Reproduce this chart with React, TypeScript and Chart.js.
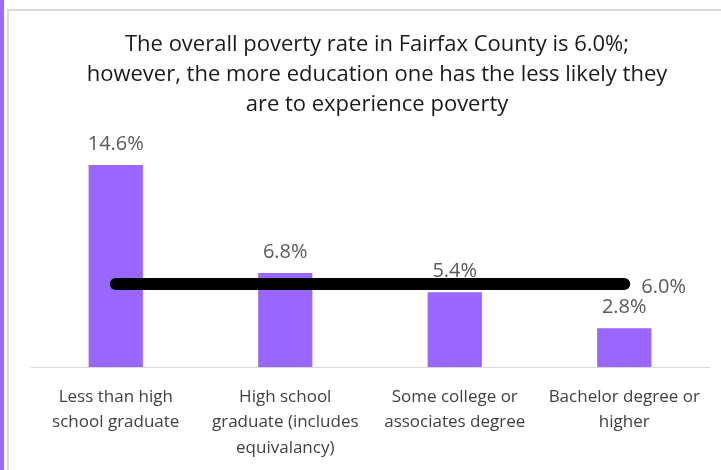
import React, { useEffect, useRef } from "react";
import { Chart, registerables } from "chart.js";

Chart.register(...registerables);

const titleLines = [
  "The overall poverty rate in Fairfax County is 6.0%;",
  "however, the more education one has the less likely they",
  "are to experience poverty",
];
const categories: string[][] = [
  ["Less than high", "school graduate"],
  ["High school", "graduate (includes", "equivalancy)"],
  ["Some college or", "associates degree"],
  ["Bachelor degree or", "higher"],
];
const povertyRates = [14.6, 6.8, 5.4, 2.8];
const overallRate = [6.0, 6.0, 6.0, 6.0];

const FONT = "'Open Sans', Lato, sans-serif";

const titlePlugin = {
  id: "customTitle",
  afterDraw(chart: any) {
    const ctx = chart.ctx;
    const area = chart.chartArea;
    ctx.save();
    ctx.font = `22px ${FONT}`;
    ctx.fillStyle = "#1a1a1a";
    ctx.textAlign = "center";
    ctx.textBaseline = "middle";
    const cx = (area.left + area.right) / 2 + 7;
    titleLines.forEach((t, i) => {
      ctx.fillText(t, cx, 45 + i * 30);
    });
    ctx.restore();
  },
};

const labelPlugin = {
  id: "valueLabels",
  afterDatasetsDraw(chart: any) {
    const ctx = chart.ctx;
    ctx.save();
    ctx.font = `20px ${FONT}`;
    ctx.fillStyle = "#595959";
    const barMeta = chart.getDatasetMeta(0);
    barMeta.data.forEach((el: any, i: number) => {
      ctx.textAlign = "center";
      ctx.textBaseline = "middle";
      ctx.fillText(povertyRates[i].toFixed(1) + "%", el.x, el.y - 21);
    });
    const lineMeta = chart.getDatasetMeta(1);
    const last = lineMeta.data[lineMeta.data.length - 1];
    ctx.textAlign = "left";
    ctx.textBaseline = "middle";
    ctx.fillText(overallRate[overallRate.length - 1].toFixed(1) + "%", last.x + 17, last.y + 3);
    ctx.restore();
  },
};

export default function App() {
  const ref = useRef<HTMLCanvasElement | null>(null);
  useEffect(() => {
    document.body.style.margin = "0";
    const chart = new Chart(ref.current!, {
      type: "bar",
      data: {
        labels: categories as any,
        datasets: [
          {
            type: "bar",
            data: povertyRates,
            backgroundColor: "#9966ff",
            barPercentage: 0.64,
            categoryPercentage: 0.5,
            order: 2,
          } as any,
          {
            type: "line",
            data: overallRate,
            borderColor: "#000000",
            borderWidth: 12,
            borderCapStyle: "round",
            pointRadius: 0,
            order: 0,
          } as any,
        ],
      },
      options: {
        animation: false,
        responsive: false,
        layout: { padding: { left: 31, right: 12, top: 143, bottom: 0 } },
        plugins: {
          legend: { display: false },
          tooltip: { enabled: false },
          title: { display: false },
        },
        scales: {
          x: {
            grid: { display: false, drawTicks: false },
            border: { display: true, color: "#d9d9d9", width: 1 },
            ticks: {
              color: "#404040",
              font: { family: FONT, size: 17, lineHeight: 1.5 },
              padding: 17,
              maxRotation: 0,
              autoSkip: false,
            },
            afterFit(scale: any) {
              scale.height = 103;
            },
          },
          y: {
            display: false,
            min: 0,
            max: 16.2,
          },
        },
      },
      plugins: [labelPlugin, titlePlugin],
    });
    return () => chart.destroy();
  }, []);
  return (
    <div style={{ position: "absolute", left: 0, top: 0, width: 721, height: 470, overflow: "hidden", background: "#fff" }}>
      <div style={{ position: "absolute", left: 0, top: 0, width: 4, height: 470, background: "#9b6bff" }} />
      <div style={{ position: "absolute", left: 7, top: 9, width: 720, height: 470, border: "2px solid #d9d9d9", boxSizing: "border-box" }} />
      <canvas ref={ref} width={721} height={470} style={{ position: "absolute", left: 0, top: 0 }} />
    </div>
  );
}
